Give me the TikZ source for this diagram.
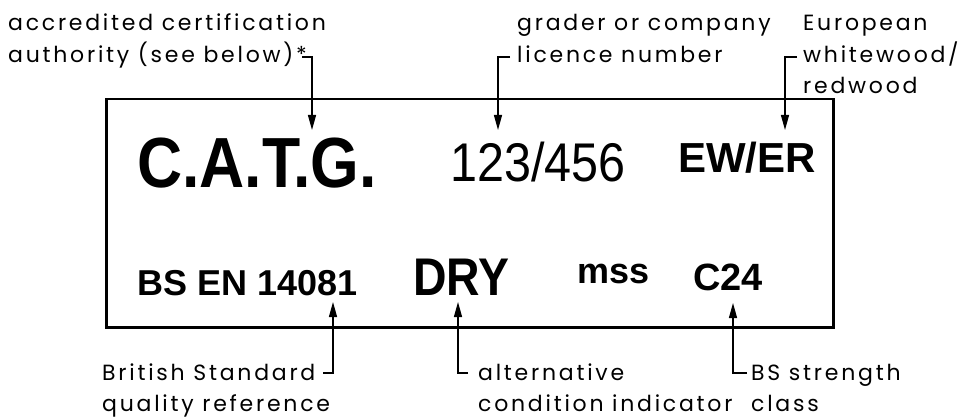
\documentclass[tikz,border=0pt]{standalone}
\usepackage{fontspec}
\usetikzlibrary{arrows.meta}
\setmainfont{Liberation Sans}
\newfontfamily\lblfont[LetterSpace=12.5]{Poppins}
\tikzset{
  lbl/.style={anchor=base west,inner sep=0pt,font=\lblfont\fontsize{22}{22}\selectfont},
  big/.style={anchor=base west,inner sep=0pt},
  arr/.style={line width=1.3pt,-{Triangle[length=15pt,width=8pt]}},
  frame/.style={draw,line width=2.5pt}
}
\begin{document}
\begin{tikzpicture}[x=1pt,y=-1pt]
\useasboundingbox (0,0) rectangle (962,417);
\node[frame,minimum width=727pt,minimum height=228pt,inner sep=0pt,anchor=north west] (box) at (105,98) {};
% box texts
\node[big] (catg) at (137,188) {\scalebox{0.88}[1]{\bfseries\fontsize{71}{71}\selectfont C.A.T.G.}};
\node[big] (num) at (450,182) {\scalebox{0.89}[1]{\fontsize{54.5}{54.5}\selectfont 123/456}};
\node[big] (ewer) at (678,173) {\bfseries\fontsize{42}{42}\selectfont EW/ER};
\node[big] (bsen) at (137,295) {\bfseries\fontsize{36}{36}\selectfont BS EN 14081};
\node[big] (dry) at (413,295) {\scalebox{0.875}[1]{\bfseries\fontsize{53}{53}\selectfont DRY}};
\node[big] (mss) at (577,283) {\bfseries\fontsize{36}{36}\selectfont mss};
\node[big] (c24) at (693,290) {\bfseries\fontsize{38}{38}\selectfont C24};
% labels
\node[lbl] (l1a) at (8,31) {accredited certification};
\node[lbl] (l1b) at (8,63) {authority (see below)*};
\node[lbl] (l2a) at (517,31) {grader or company};
\node[lbl] (l2b) at (517,63) {licence number};
\node[lbl] (l3a) at (803,31) {European};
\node[lbl] (l3b) at (803,63) {whitewood/};
\node[lbl] (l3c) at (803,94) {redwood};
\node[lbl] (l4a) at (102,380) {British Standard};
\node[lbl] (l4b) at (102,411) {quality reference};
\node[lbl] (l5a) at (478,380) {alternative};
\node[lbl] (l5b) at (478,411) {condition indicator};
\node[lbl] (l6a) at (751,380) {BS strength};
\node[lbl] (l6b) at (751,411) {class};
% connector coordinates
\coordinate (h1) at (302,57); \coordinate (t1) at (312,130);
\coordinate (h2) at (510,57); \coordinate (t2) at (498,130);
\coordinate (h3) at (797,57); \coordinate (t3) at (785,130);
\coordinate (h4) at (323,373); \coordinate (t4) at (333,302);
\coordinate (h5) at (468,373); \coordinate (t5) at (458,302);
\coordinate (h6) at (747,373); \coordinate (t6) at (733,303);
\draw[arr] (h1) -| (t1);
\draw[arr] (h2) -| (t2);
\draw[arr] (h3) -| (t3);
\draw[arr] (h4) -| (t4);
\draw[arr] (h5) -| (t5);
\draw[arr] (h6) -| (t6);
\end{tikzpicture}
\end{document}
